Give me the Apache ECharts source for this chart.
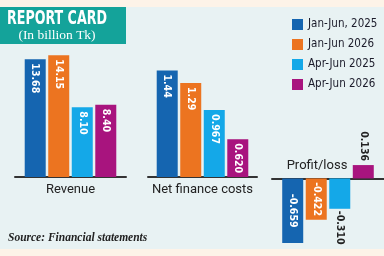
<!DOCTYPE html>
<html>
<head>
<meta charset="utf-8">
<script src="https://cdn.jsdelivr.net/npm/echarts@6/dist/echarts.min.js"></script>
<style>
html,body{margin:0;padding:0;background:#e8f2f3;}
#chart{width:384px;height:256px;}
</style>
</head>
<body>
<div id="chart"></div>
<script>
// data
var categories = ['Revenue', 'Net finance costs', 'Profit/loss'];
var periods = ['Jan-Jun, 2025', 'Jan-Jun 2026', 'Apr-Jun 2025', 'Apr-Jun 2026'];
var colors = ['#1565b0', '#ec7420', '#14a8e8', '#a8147e'];
var janJun2025 = [13.68, 1.44, -0.659];
var janJun2026 = [14.15, 1.29, -0.422];
var aprJun2025 = [8.10, 0.967, -0.310];
var aprJun2026 = [8.40, 0.620, 0.136];
var periodValues = [janJun2025, janJun2026, aprJun2025, aprJun2026];

var numFont = '"DejaVu Sans Condensed", "DejaVu Sans", sans-serif';

function fmt(v) {
  return Math.abs(v) >= 1 ? v.toFixed(2) : v.toFixed(3);
}

// label placement like the newspaper graphic
function labelFor(v) {
  var lab = {show: true, rotate: -90, fontFamily: numFont, fontWeight: 'bold',
    fontSize: 10.5, formatter: fmt(v), verticalAlign: 'middle'};
  if (v >= 0.3) {
    lab.position = 'insideTop'; lab.align = 'left'; lab.distance = 4; lab.color = '#fff';
  } else if (v > 0) {
    lab.position = 'top'; lab.align = 'right'; lab.distance = 4; lab.color = '#222';
  } else if (v <= -0.4) {
    lab.position = 'inside'; lab.align = 'center'; lab.color = '#fff';
  } else {
    lab.position = 'bottom'; lab.align = 'left'; lab.distance = 2; lab.color = '#222';
  }
  return lab;
}

var grids = [
  {left: 15, width: 111, top: 48, height: 129},
  {left: 148, width: 109, top: 57, height: 120},
  {left: 272, width: 112, top: 149, height: 98}
];
var yRanges = [[0, 15], [0.17, 1.6], [-0.7, 0.3]];

var xAxes = [], yAxes = [], series = [];
for (var g = 0; g < categories.length; g++) {
  xAxes.push({
    gridIndex: g, type: 'category', data: [categories[g]],
    axisTick: {show: false},
    axisLine: {lineStyle: {color: '#333', width: 2}},
    axisLabel: {show: g !== 2, fontFamily: 'Roboto', fontSize: 13, color: '#222', margin: 6}
  });
  yAxes.push({gridIndex: g, type: 'value', show: false, min: yRanges[g][0], max: yRanges[g][1],
    splitLine: {show: false}});
  for (var p = 0; p < periods.length; p++) {
    var v = periodValues[p][g];
    series.push({
      name: periods[p], type: 'bar', xAxisIndex: g, yAxisIndex: g,
      barWidth: 21, barGap: '12%',
      itemStyle: {color: colors[p]},
      data: [{value: v, label: labelFor(v)}]
    });
  }
}

var myChart = echarts.init(document.getElementById('chart'));
var option = {
  animation: false,
  backgroundColor: '#e8f2f3',
  grid: grids,
  xAxis: xAxes,
  yAxis: yAxes,
  legend: {
    data: periods, orient: 'vertical', left: 292, top: 17.5, padding: 0,
    icon: 'rect', itemWidth: 11, itemHeight: 11, itemGap: 6, selectedMode: false,
    textStyle: {fontFamily: numFont, fontSize: 11.5, color: '#1b1b2a', lineHeight: 14}
  },
  graphic: [
    {type: 'rect', left: 0, top: 0, shape: {width: 384, height: 7}, style: {fill: '#fdf3e8'}},
    {type: 'rect', left: 0, top: 249, shape: {width: 384, height: 7}, style: {fill: '#fdf3e8'}},
    {type: 'rect', left: 0, top: 7, shape: {width: 126, height: 37}, style: {fill: '#14a39a'}},
    {type: 'text', x: 57, y: 19.5, scaleX: 0.74, style: {text: 'REPORT CARD', fill: '#fff',
      font: 'bold 19px "DejaVu Sans Condensed", "DejaVu Sans", sans-serif',
      textAlign: 'center', textVerticalAlign: 'middle'}},
    {type: 'text', x: 57, y: 35.5, style: {text: '(In billion Tk)', fill: '#fff', font: '13.5px "Liberation Serif"',
      textAlign: 'center', textVerticalAlign: 'middle'}},
    // category name of the third panel sits above its zero line
    {type: 'text', x: 317, y: 166, style: {text: categories[2], fill: '#222', font: '13px Roboto',
      textAlign: 'center', textVerticalAlign: 'middle'}},
    {type: 'text', x: 8, y: 238, style: {text: 'Source: Financial statements', fill: '#222',
      font: 'italic bold 11.5px "Liberation Serif"', textAlign: 'left', textVerticalAlign: 'middle'}}
  ],
  series: series
};
myChart.setOption(option);
</script>
</body>
</html>
